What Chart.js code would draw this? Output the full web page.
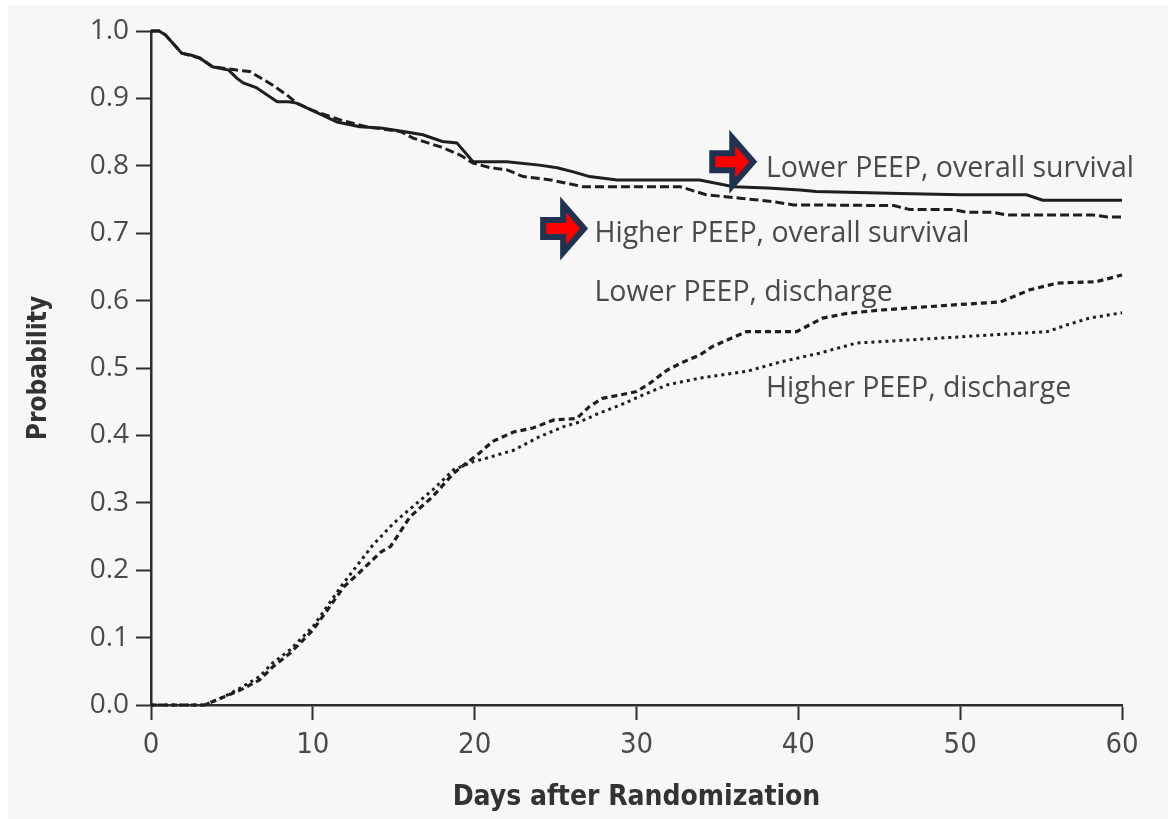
<!DOCTYPE html>
<html>
<head>
<meta charset="utf-8">
<script src="https://cdn.jsdelivr.net/npm/chart.js@4.4.1/dist/chart.umd.min.js"></script>
<style>
  html, body { margin: 0; padding: 0; background: #ffffff; }
  #wrap { position: absolute; left: 8px; top: 5px; width: 1160px; height: 814px; background: #f7f7f7; }
</style>
</head>
<body>
<div id="wrap"><canvas id="grafico" width="1160" height="814"></canvas></div>
<script>
// Kaplan-Meier curves, days after randomization vs probability
const lowerSurvDays = [0, 0.5, 0.9, 1.9, 2.5, 3.0, 3.8, 4.8, 5.3, 5.7, 6.5, 7.8, 8.5, 9.0, 10.0, 11.5, 12.9, 14.2, 15.6, 16.8, 18.0, 18.9, 19.9, 22.0, 24.0, 25.1, 26.1, 27.1, 28.8, 33.9, 36.0, 38.1, 40.1, 41.1, 46.3, 50.0, 54.1, 55.1, 60];
const lowerSurv = [1.0, 1.0, 0.994, 0.967, 0.964, 0.960, 0.947, 0.942, 0.930, 0.923, 0.916, 0.895, 0.895, 0.893, 0.882, 0.865, 0.858, 0.856, 0.851, 0.846, 0.836, 0.834, 0.806, 0.806, 0.801, 0.797, 0.791, 0.784, 0.779, 0.779, 0.769, 0.767, 0.764, 0.762, 0.759, 0.757, 0.757, 0.749, 0.749];

const higherSurvDays = [0, 0.5, 0.9, 1.9, 3.0, 3.8, 5.3, 6.1, 7.5, 8.4, 9.0, 10.0, 11.7, 13.3, 15.4, 16.2, 17.9, 19.1, 19.9, 21.0, 22.0, 23.0, 24.7, 26.7, 32.7, 34.3, 36.4, 38.4, 39.7, 45.9, 46.9, 49.6, 50.4, 52.0, 52.9, 58.2, 59.1, 60];
const higherSurv = [1.0, 1.0, 0.994, 0.967, 0.960, 0.947, 0.942, 0.940, 0.920, 0.905, 0.893, 0.882, 0.868, 0.858, 0.851, 0.841, 0.828, 0.816, 0.804, 0.797, 0.794, 0.784, 0.779, 0.769, 0.769, 0.757, 0.752, 0.747, 0.742, 0.741, 0.735, 0.735, 0.731, 0.731, 0.727, 0.727, 0.724, 0.724];

const lowerDisDays = [0, 3.3, 4.5, 5.5, 6.7, 7.5, 8.6, 10.0, 10.9, 11.9, 12.9, 14.2, 14.8, 16.0, 17.4, 18.7, 19.5, 20.3, 21.1, 22.4, 23.6, 24.9, 26.3, 27.1, 27.9, 29.0, 30.0, 30.8, 31.9, 32.9, 33.9, 34.7, 36.8, 39.9, 41.5, 43.0, 45.1, 49.2, 52.5, 54.3, 56.0, 58.4, 60];
const lowerDis = [0, 0, 0.012, 0.022, 0.037, 0.056, 0.077, 0.111, 0.141, 0.175, 0.197, 0.227, 0.235, 0.279, 0.309, 0.344, 0.359, 0.374, 0.391, 0.405, 0.411, 0.423, 0.425, 0.443, 0.455, 0.460, 0.465, 0.477, 0.497, 0.509, 0.519, 0.532, 0.554, 0.554, 0.574, 0.581, 0.586, 0.593, 0.598, 0.616, 0.626, 0.628, 0.638];

const higherDisDays = [0, 3.3, 4.5, 5.5, 6.7, 7.5, 8.6, 10.0, 11.9, 13.7, 15.0, 16.4, 17.4, 18.7, 19.9, 20.7, 22.4, 24.0, 25.5, 26.5, 27.7, 29.0, 30.4, 31.9, 33.9, 36.8, 38.9, 41.3, 43.6, 47.1, 51.9, 55.4, 56.6, 58.0, 60];
const higherDis = [0, 0, 0.012, 0.025, 0.042, 0.062, 0.082, 0.116, 0.181, 0.237, 0.270, 0.299, 0.319, 0.349, 0.361, 0.366, 0.378, 0.398, 0.413, 0.420, 0.433, 0.445, 0.460, 0.475, 0.485, 0.495, 0.509, 0.522, 0.537, 0.542, 0.549, 0.554, 0.564, 0.574, 0.582];

const xTicks = [0, 10, 20, 30, 40, 50, 60];
const yTicks = [0.0, 0.1, 0.2, 0.3, 0.4, 0.5, 0.6, 0.7, 0.8, 0.9, 1.0];

// curve labels and the two pointer arrows (in axis units)
const curveLabels = [
    { text: 'Lower PEEP, overall survival', x: 38.0, y: 0.784 },
    { text: 'Higher PEEP, overall survival', x: 27.4, y: 0.687 },
    { text: 'Lower PEEP, discharge', x: 27.4, y: 0.600 },
    { text: 'Higher PEEP, discharge', x: 38.0, y: 0.457 }
];
const arrowTips = [
    { x: 37.4, y: 0.806 },
    { x: 26.95, y: 0.707 }
];

const INK = '#1e1e1e';
const AXIS = '#2e2e2e';
const TEXT = '#4a4a4a';
const NARROW = '"Liberation Sans Narrow", "DejaVu Sans Condensed", sans-serif';

function pontos(xs, ys) {
    return xs.map((x, i) => ({ x: x, y: ys[i] }));
}

function desenharSeta(ctx, tx, ty) {
    // block arrow pointing right, tip at (tx, ty)
    ctx.beginPath();
    ctx.moveTo(tx, ty);
    ctx.lineTo(tx - 21, ty - 24);
    ctx.lineTo(tx - 21, ty - 8.5);
    ctx.lineTo(tx - 41, ty - 8.5);
    ctx.lineTo(tx - 41, ty + 8.5);
    ctx.lineTo(tx - 21, ty + 8.5);
    ctx.lineTo(tx - 21, ty + 24);
    ctx.closePath();
    ctx.fillStyle = '#ff0000';
    ctx.fill();
    ctx.lineWidth = 6;
    ctx.lineJoin = 'miter';
    ctx.strokeStyle = '#1f3350';
    ctx.stroke();
}

const rotulos = {
    id: 'rotulos',
    afterDatasetsDraw(chart) {
        const { ctx, scales: { x, y } } = chart;
        ctx.save();
        arrowTips.forEach(a => desenharSeta(ctx, x.getPixelForValue(a.x) - 3, y.getPixelForValue(a.y)));
        ctx.fillStyle = TEXT;
        ctx.font = '28.5px "Open Sans", sans-serif';
        ctx.textAlign = 'left';
        ctx.textBaseline = 'alphabetic';
        curveLabels.forEach(l => ctx.fillText(l.text, x.getPixelForValue(l.x), y.getPixelForValue(l.y)));
        ctx.restore();
    }
};

function main() {
    const ctx = document.getElementById('grafico').getContext('2d');
    new Chart(ctx, {
        type: 'line',
        data: {
            datasets: [
                { label: 'Lower PEEP, overall survival', data: pontos(lowerSurvDays, lowerSurv), borderColor: INK, borderWidth: 3 },
                { label: 'Higher PEEP, overall survival', data: pontos(higherSurvDays, higherSurv), borderColor: INK, borderWidth: 3, borderDash: [9, 4] },
                { label: 'Lower PEEP, discharge', data: pontos(lowerDisDays, lowerDis), borderColor: INK, borderWidth: 3.2, borderDash: [6, 4] },
                { label: 'Higher PEEP, discharge', data: pontos(higherDisDays, higherDis), borderColor: INK, borderWidth: 3, borderDash: [3, 4] }
            ]
        },
        options: {
            animation: false,
            responsive: false,
            devicePixelRatio: 1,
            layout: { padding: { top: 26, right: 46, left: 0, bottom: 0 } },
            elements: { point: { radius: 0 }, line: { tension: 0, fill: false } },
            datasets: { line: { clip: 5 } },
            plugins: { legend: { display: false }, tooltip: { enabled: false } },
            scales: {
                x: {
                    type: 'linear',
                    min: 0,
                    max: 60,
                    afterFit: s => { s.height = 114; },
                    afterBuildTicks: s => { s.ticks = xTicks.map(v => ({ value: v })); },
                    ticks: {
                        color: TEXT,
                        padding: 8,
                        font: { family: NARROW, size: 29 }
                    },
                    grid: { drawOnChartArea: false, drawTicks: true, tickLength: 15, tickWidth: 2, tickColor: AXIS },
                    border: { color: AXIS, width: 2.5 },
                    title: {
                        display: true,
                        text: 'Days after Randomization',
                        color: '#333333',
                        padding: { top: 0, bottom: 4 },
                        font: { family: NARROW, size: 28, weight: 'bold' }
                    }
                },
                y: {
                    type: 'linear',
                    min: 0,
                    max: 1,
                    afterFit: s => { s.width = 143; },
                    afterBuildTicks: s => { s.ticks = yTicks.map(v => ({ value: v })); },
                    ticks: {
                        color: TEXT,
                        padding: 7,
                        callback: v => v.toFixed(1),
                        font: { family: '"Open Sans", sans-serif', size: 28 }
                    },
                    grid: { drawOnChartArea: false, drawTicks: true, tickLength: 15, tickWidth: 2, tickColor: AXIS },
                    border: { color: AXIS, width: 2.5 },
                    title: {
                        display: true,
                        text: 'Probability',
                        color: '#333333',
                        padding: { top: 16, bottom: 16 },
                        font: { family: NARROW, size: 26, weight: 'bold' }
                    }
                }
            }
        },
        plugins: [rotulos]
    });
}

window.addEventListener('DOMContentLoaded', main);
</script>
</body>
</html>
